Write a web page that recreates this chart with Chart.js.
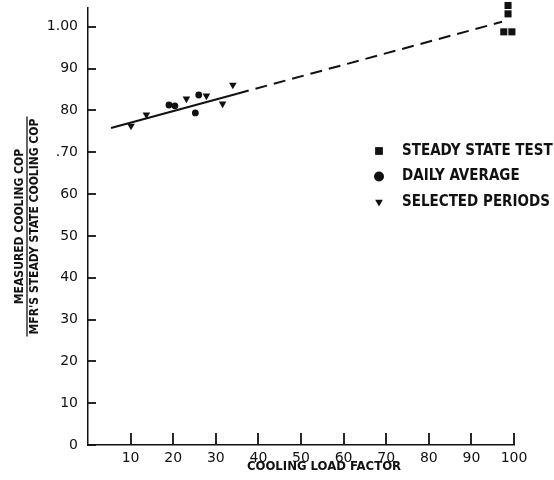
<!DOCTYPE html>
<html>
<head>
<meta charset="utf-8">
<title>Measured COP / steady state COP vs cooling load factor</title>
<script src="https://cdn.jsdelivr.net/npm/chart.js@4.4.1/dist/chart.umd.min.js"></script>
<style>
    html, body { margin: 0; padding: 0; background: #fff; }
    #wrap { width: 554px; height: 480px; }
</style>
</head>
<body>
<div id="wrap"><canvas id="cop-chart"></canvas></div>
<script>
// steady state tests (squares), all near full load
const steadyX = [98.6, 98.6, 97.6, 99.5];
const steadyY = [105.1, 103.1, 98.8, 98.8];

// daily averages (circles)
const dailyX = [19.0, 20.4, 25.2, 26.0];
const dailyY = [81.3, 81.1, 79.4, 83.7];

// selected periods (down triangles)
const periodX = [10.1, 13.7, 23.1, 27.8, 31.6, 34.0];
const periodY = [76.3, 79.0, 82.8, 83.5, 81.6, 86.1];

// fitted line: solid over the measured range, dashed out to full load
const fitX = [5.4, 35.0, 97.2];
const fitY = [75.8, 84.0, 101.2];

const xTickValues = [10, 20, 30, 40, 50, 60, 70, 80, 90, 100];
const yTickValues = [0, 10, 20, 30, 40, 50, 60, 70, 80, 90, 100];
const yTickLabels = ['0', '10', '20', '30', '40', '50', '60', '.70', '80', '90', '1.00'];

const seriesNames = ['STEADY STATE TEST', 'DAILY AVERAGE', 'SELECTED PERIODS'];
const yTitle = ['MEASURED COOLING COP', "MFR'S STEADY STATE COOLING COP"];
const xTitle = 'COOLING LOAD FACTOR';

const ink = '#111';
const tickFont = { family: '"DejaVu Sans", sans-serif', size: 14 };
const labelFamily = '"DejaVu Sans Condensed", "DejaVu Sans", sans-serif';

const toPoints = (xs, ys) => xs.map((x, i) => ({ x: x, y: ys[i] }));

// legend sits inside the plot, to the right
const keyPlugin = {
    id: 'keyBox',
    afterDatasetsDraw(chart) {
        const { ctx, chartArea } = chart;
        const x0 = chartArea.left + 291;
        const y0 = chartArea.top + 143;
        let row = 0;
        ctx.save();
        for (let ds of chart.data.datasets) {
            if (!ds.inKey) continue;
            const y = y0 + row * 25.5;
            ctx.fillStyle = ink;
            Chart.helpers.drawPoint(ctx, {
                pointStyle: ds.pointStyle,
                radius: ds.keyRadius,
                rotation: ds.rotation || 0,
                borderWidth: 0
            }, x0, y);
            ctx.font = 'bold 15px ' + labelFamily;
            ctx.textBaseline = 'middle';
            ctx.textAlign = 'left';
            ctx.fillText(ds.label, x0 + 23, y);
            row++;
        };
        ctx.restore();
    }
};

// inward tick marks, fraction bar of the y title, x title set a bit right of centre
const axisDecor = {
    id: 'axisDecor',
    afterDraw(chart) {
        const { ctx, chartArea } = chart;
        const xs = chart.scales.x;
        const ys = chart.scales.y;
        ctx.save();
        ctx.strokeStyle = ink;
        ctx.lineWidth = 1.8;
        ctx.setLineDash([]);
        xTickValues.forEach(v => {
            const px = Math.round(xs.getPixelForValue(v));
            ctx.beginPath();
            ctx.moveTo(px, chartArea.bottom);
            ctx.lineTo(px, chartArea.bottom - 12);
            ctx.stroke();
        });
        yTickValues.forEach(v => {
            const py = Math.round(ys.getPixelForValue(v));
            ctx.beginPath();
            ctx.moveTo(chartArea.left, py);
            ctx.lineTo(chartArea.left + 8, py);
            ctx.stroke();
        });

        ctx.lineWidth = 1.3;
        const font = ys.options.title.font;
        const barX = ys.left + ys.options.title.padding.top + font.size * font.lineHeight;
        ctx.font = 'bold ' + font.size + 'px ' + labelFamily;
        const len = ctx.measureText(yTitle[1]).width + 4;
        const mid = (chartArea.top + chartArea.bottom) / 2;
        ctx.beginPath();
        ctx.moveTo(barX, mid - len / 2);
        ctx.lineTo(barX, mid + len / 2);
        ctx.stroke();

        ctx.fillStyle = ink;
        ctx.font = 'bold 13px ' + labelFamily;
        ctx.textAlign = 'center';
        ctx.textBaseline = 'middle';
        ctx.fillText(xTitle, (chartArea.left + chartArea.right) / 2 + 23, chartArea.bottom + 22);
        ctx.restore();
    }
};

new Chart(document.getElementById('cop-chart'), {
    type: 'scatter',
    data: {
        datasets: [
            {
                label: 'fit',
                data: toPoints(fitX, fitY),
                showLine: true,
                borderColor: ink,
                borderWidth: 2,
                pointRadius: 0,
                segment: {
                    borderDash: c => c.p0DataIndex >= 1 ? [12, 7] : undefined
                }
            },
            {
                label: seriesNames[0],
                data: toPoints(steadyX, steadyY),
                inKey: true,
                pointStyle: 'rect',
                pointRadius: 5,
                keyRadius: 5.5,
                backgroundColor: ink,
                borderWidth: 0,
                clip: false
            },
            {
                label: seriesNames[1],
                data: toPoints(dailyX, dailyY),
                inKey: true,
                pointStyle: 'circle',
                pointRadius: 3.4,
                keyRadius: 5,
                backgroundColor: ink,
                borderWidth: 0
            },
            {
                label: seriesNames[2],
                data: toPoints(periodX, periodY),
                inKey: true,
                pointStyle: 'triangle',
                rotation: 180,
                pointRadius: 4.4,
                keyRadius: 4.4,
                backgroundColor: ink,
                borderWidth: 0
            }
        ]
    },
    options: {
        responsive: true,
        maintainAspectRatio: false,
        animation: false,
        layout: {
            padding: { top: 8, right: 40, left: 0, bottom: 0 }
        },
        plugins: {
            legend: { display: false },
            tooltip: { enabled: false }
        },
        scales: {
            x: {
                type: 'linear',
                min: 0,
                max: 100,
                afterBuildTicks: s => { s.ticks = xTickValues.map(v => ({ value: v })); },
                afterFit: s => { s.height = 35; s.paddingLeft = 0; s.paddingRight = 0; },
                border: { display: true, color: ink, width: 1.5 },
                grid: { display: true, drawOnChartArea: false, drawTicks: false },
                ticks: { color: ink, font: tickFont, padding: 5, autoSkip: false, maxRotation: 0 }
            },
            y: {
                type: 'linear',
                min: 0,
                max: 104.5,
                afterBuildTicks: s => { s.ticks = yTickValues.map(v => ({ value: v })); },
                afterFit: s => { s.width = 88; s.paddingTop = 0; s.paddingBottom = 0; },
                border: { display: true, color: ink, width: 1.5 },
                grid: { display: true, drawOnChartArea: false, drawTicks: false },
                ticks: {
                    color: ink,
                    font: tickFont,
                    padding: 10,
                    autoSkip: false,
                    callback: v => yTickLabels[yTickValues.indexOf(v)]
                },
                title: {
                    display: true,
                    text: yTitle,
                    color: ink,
                    font: { family: labelFamily, size: 12, weight: 'bold', lineHeight: 1.25 },
                    padding: { top: 12, bottom: 0 }
                }
            }
        }
    },
    plugins: [keyPlugin, axisDecor]
});
</script>
</body>
</html>
